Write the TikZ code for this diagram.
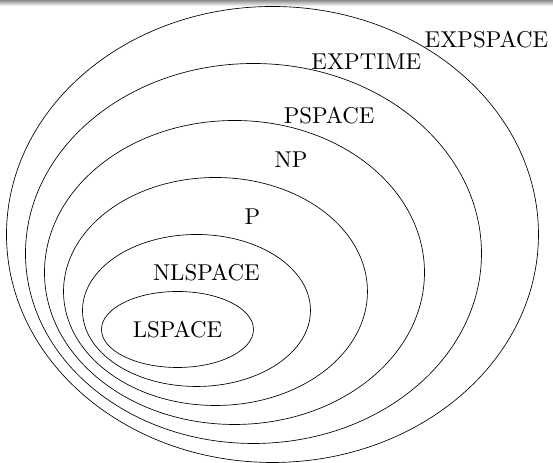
\documentclass[tikz,border=0pt]{standalone}
\usepackage{tikz}
\usetikzlibrary{positioning}

\begin{document}
\begin{tikzpicture}[
  ring/.style={draw=black, line width=0.5pt},
  cname/.style={font=\fontsize{10}{12}\selectfont, scale=1.715, inner sep=0.5pt},
  topbar/.style={top color=black!45, bottom color=white, draw=none}
]
\useasboundingbox (-4.671,-3.5) rectangle (9.882,8.671);
\shade[topbar] (-4.671,8.51) rectangle (9.882,8.671);
\foreach \k in {0,...,5} {\draw[ring] (\k/2,\k/2) ellipse ({2+\k} and {1+\k});}
\node[cname] (lspace) at (0,0) {LSPACE};
\node[cname] (nlspace) at (0.76,1.49) {NLSPACE};
\node[cname] (p) at (1.97,2.96) {P};
\node[cname] (np) at (2.99,4.46) {NP};
\node[cname] (pspace) at (3.99,5.64) {PSPACE};
\node[cname] (exptime) at (4.97,7.04) {EXPTIME};
\node[cname] (expspace) at (8.13,7.63) {EXPSPACE};
\end{tikzpicture}
\end{document}
